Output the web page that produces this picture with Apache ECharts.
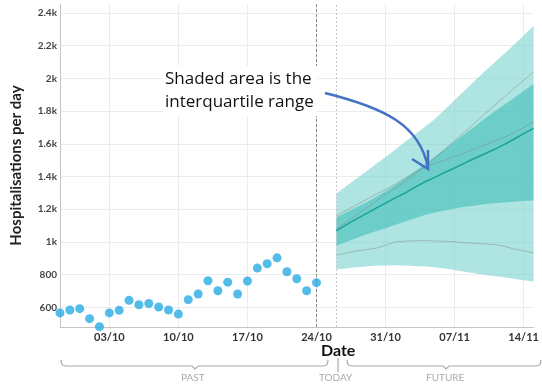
<!DOCTYPE html>
<html>
<head>
<meta charset="utf-8">
<script src="https://cdn.jsdelivr.net/npm/echarts@6/dist/echarts.min.js"></script>
<style>
  html, body { margin: 0; padding: 0; background: #fff; }
  #chart { width: 542px; height: 386px; }
</style>
</head>
<body>
<div id="chart"></div>
<script>
// Day 0 on the x axis is 28/09; one unit per day.
const startDay = 0;
const tickDays = [5, 12, 19, 26, 33, 40, 47];
const tickLabels = ['03/10', '10/10', '17/10', '24/10', '31/10', '07/11', '14/11'];
const yTicks = [600, 800, 1000, 1200, 1400, 1600, 1800, 2000, 2200, 2400];

// Observed daily hospitalisations, 28/09 .. 24/10
const observed = [566, 584, 592, 531, 482, 566, 582, 643, 616, 624, 602, 584, 559,
                  647, 682, 763, 702, 754, 682, 761, 840, 867, 903, 818, 775, 702, 751];

// Forecast, 26/10 .. 15/11
const forecastStart = 28;
const outerLow  = [831, 838, 845, 850, 854, 856, 857, 856, 853, 850, 845, 838, 828, 818, 809, 800, 792, 784, 775, 766, 758];
const outerHigh = [1294, 1340, 1385, 1430, 1475, 1520, 1565, 1612, 1658, 1705, 1752, 1810, 1868, 1925, 1982, 2040, 2095, 2150, 2205, 2262, 2321];
const innerLow  = [977, 1000, 1022, 1045, 1065, 1084, 1105, 1125, 1145, 1165, 1180, 1193, 1205, 1215, 1222, 1230, 1236, 1241, 1246, 1250, 1253];
const innerHigh = [1151, 1180, 1210, 1240, 1275, 1310, 1350, 1390, 1432, 1477, 1522, 1568, 1615, 1660, 1705, 1752, 1795, 1838, 1880, 1923, 1966];
const median    = [1069, 1105, 1140, 1172, 1205, 1238, 1270, 1300, 1335, 1368, 1395, 1425, 1452, 1482, 1510, 1538, 1565, 1595, 1628, 1662, 1695];
const scenarioA = [1080, 1120, 1162, 1205, 1248, 1289, 1330, 1372, 1415, 1459, 1512, 1565, 1620, 1672, 1725, 1780, 1832, 1885, 1937, 1988, 2040];
const scenarioB = [1159, 1192, 1225, 1258, 1290, 1320, 1355, 1390, 1425, 1459, 1480, 1500, 1522, 1545, 1568, 1592, 1615, 1640, 1668, 1700, 1734];
const scenarioC = [920, 932, 944, 953, 961, 980, 1000, 1005, 1008, 1008, 1006, 1004, 1001, 996, 992, 988, 985, 975, 957, 946, 933];

const todayDay = 26;
const forecastLineDay = 28;

const pairs = (first, arr) => arr.map((v, i) => [first + i, v]);
const bandRows = (lo, hi) => lo.map((v, i) => [forecastStart + i, v, hi[i]]);

const chart = echarts.init(document.getElementById('chart'));

const gridColor = '#ececec';
const teal = '#1aa29c';
const greyLine = 'rgba(130,130,130,0.45)';
const bracketStyle = { stroke: '#aaa', lineWidth: 1.2, fill: null };

// A filled band between two edges, drawn once as a single polygon
function bandSeries(rows, color, z) {
  return {
    type: 'custom',
    data: rows,
    encode: { x: 0, y: [1, 2] },
    silent: true,
    z: z,
    renderItem: (params, api) => {
      if (params.dataIndex !== 0) return null;
      const top = rows.map(r => api.coord([r[0], r[2]]));
      const bottom = rows.map(r => api.coord([r[0], r[1]])).reverse();
      return {
        type: 'polygon',
        shape: { points: top.concat(bottom) },
        style: { fill: color, stroke: null }
      };
    }
  };
}

// Curly bracket under a span of the axis, drawn as a polyline
function bracket(x0, x1, mid, y) {
  return {
    type: 'polyline',
    shape: {
      points: [[x0, y - 6], [x0 + 0.5, y - 2.5], [x0 + 2, y - 0.7], [x0 + 5, y],
               [mid - 3, y], [mid, y + 3], [mid + 3, y],
               [x1 - 5, y], [x1 - 2, y - 0.7], [x1 - 0.5, y - 2.5], [x1, y - 6]]
    },
    style: bracketStyle
  };
}

chart.setOption({
  animation: false,
  grid: { left: 60, right: 2, top: 4, bottom: 59 },
  xAxis: {
    type: 'value',
    min: startDay,
    max: 48,
    axisLine: { show: true, lineStyle: { color: '#c4c4c4', width: 1 } },
    axisTick: { show: false, customValues: tickDays },
    axisLabel: {
      customValues: tickDays,
      formatter: v => tickLabels[tickDays.indexOf(v)],
      fontFamily: 'Lato', fontWeight: 'bold', fontSize: 11, color: '#333', margin: 5
    },
    splitLine: { show: true, lineStyle: { color: gridColor, width: 1 } }
  },
  yAxis: {
    type: 'value',
    min: 480,
    max: 2455,
    name: 'Hospitalisations per day',
    nameLocation: 'middle',
    nameGap: 36,
    nameTextStyle: { fontFamily: 'Lato', fontWeight: 'bold', fontSize: 15, color: '#222' },
    axisLine: { show: true, lineStyle: { color: '#c4c4c4', width: 1 } },
    axisTick: { show: false, customValues: yTicks },
    axisLabel: {
      customValues: yTicks,
      formatter: v => v >= 1000 ? (v / 1000) + 'k' : String(v),
      fontFamily: 'Lato', fontWeight: 'bold', fontSize: 10, color: '#444', margin: 3
    },
    splitLine: { show: true, lineStyle: { color: gridColor, width: 1 } }
  },
  series: [
    bandSeries(bandRows(outerLow, outerHigh), 'rgba(120,210,205,0.6)', 2),
    bandSeries(bandRows(innerLow, innerHigh), 'rgba(70,190,185,0.62)', 3),
    // scenario traces
    { type: 'line', data: pairs(forecastStart, scenarioA), symbol: 'none',
      lineStyle: { color: greyLine, width: 1 }, z: 4 },
    { type: 'line', data: pairs(forecastStart, scenarioB), symbol: 'none',
      lineStyle: { color: greyLine, width: 1 }, z: 4 },
    { type: 'line', data: pairs(forecastStart, scenarioC), symbol: 'none',
      lineStyle: { color: greyLine, width: 1 }, z: 4 },
    // median
    { type: 'line', data: pairs(forecastStart, median), symbol: 'none',
      lineStyle: { color: teal, width: 1.5 }, z: 5 },
    // observed
    {
      type: 'scatter', data: pairs(startDay, observed), symbolSize: 9,
      itemStyle: { color: '#29abe2' }, z: 6,
      markLine: {
        silent: true, symbol: 'none', label: { show: false },
        data: [
          { xAxis: todayDay, lineStyle: { color: '#888', type: [3, 2], width: 1 } },
          { xAxis: forecastLineDay, lineStyle: { color: '#c8c8c8', type: [2, 2], width: 1 } }
        ]
      }
    }
  ],
  graphic: [
    {
      type: 'text', left: 163, top: 66, z: 10,
      style: { text: 'Shaded area is the\ninterquartile range', font: '17px "Open Sans"',
               fill: '#111', lineHeight: 23, backgroundColor: '#fff', padding: [2, 4, 2, 2] }
    },
    {
      type: 'bezierCurve', z: 10,
      shape: { x1: 325, y1: 93, x2: 428, y2: 168, cpx1: 385, cpy1: 108, cpx2: 420, cpy2: 125 },
      style: { stroke: '#4472c4', lineWidth: 2.5, fill: null }
    },
    {
      type: 'polyline', z: 10,
      shape: { points: [[412, 159], [428, 169], [428, 150]] },
      style: { stroke: '#4472c4', lineWidth: 2.5, fill: null, lineJoin: 'miter' }
    },
    {
      type: 'text', left: 321, top: 343,
      style: { text: 'Date', font: 'bold 16px Lato', fill: '#111' }
    },
    bracket(61, 328, 195, 366),
    bracket(347, 541, 446, 366),
    {
      type: 'line', shape: { x1: 338, y1: 358, x2: 338, y2: 372 },
      style: { stroke: '#aaa', lineWidth: 1.2 }
    },
    { type: 'text', left: 181, top: 373, style: { text: 'PAST', font: '10px Lato', fill: '#aaa' } },
    { type: 'text', left: 319, top: 373, style: { text: 'TODAY', font: '10px Lato', fill: '#aaa' } },
    { type: 'text', left: 426, top: 373, style: { text: 'FUTURE', font: '10px Lato', fill: '#aaa' } }
  ]
});
</script>
</body>
</html>
